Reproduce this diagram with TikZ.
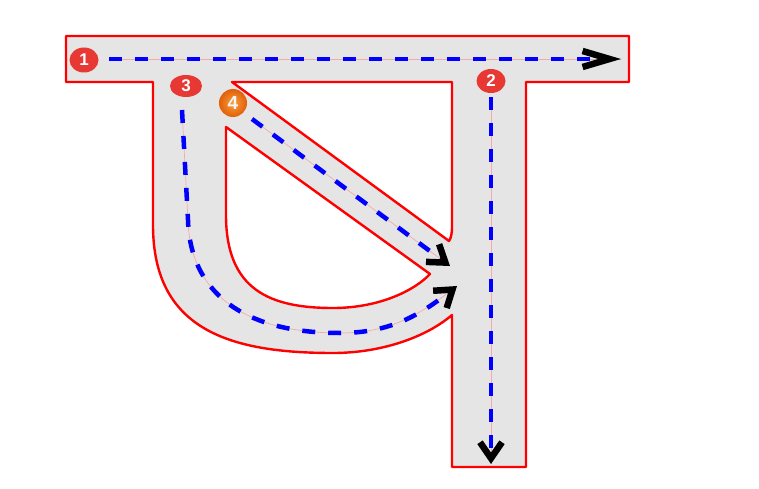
\documentclass[tikz,border=0pt]{standalone}
\usepackage{fontspec}
\setmainfont{Liberation Sans}
\usetikzlibrary{arrows.meta,shapes.geometric}
\definecolor{shapefill}{RGB}{229,229,229}
\definecolor{outlinered}{RGB}{255,0,0}
\definecolor{badgered}{RGB}{232,56,52}
\definecolor{pathblue}{RGB}{0,0,255}
\definecolor{guidepink}{RGB}{245,170,170}
\definecolor{orangeout}{RGB}{225,95,10}
\definecolor{orangein}{RGB}{250,160,60}
\begin{document}
\begin{tikzpicture}[x=1pt,y=-1pt,
  letterbody/.style={fill=shapefill,draw=outlinered,line width=2.4pt,line join=round,even odd rule},
  strokepath/.style={draw=pathblue,line width=4.5pt,dash pattern=on 13pt off 13pt},
  guideline/.style={draw=guidepink,line width=0.7pt},
  tipshort/.style={-{Straight Barb[length=16pt,width=22pt,line width=6.5pt,color=black]}},
  tiplong/.style={-{Straight Barb[length=27pt,width=16pt,line width=6.5pt,color=black]}},
  badge/.style={ellipse,fill=badgered,text=white,inner sep=0pt,
    font=\bfseries\fontsize{17}{17}\selectfont},
  orangebadge/.style={circle,inner color=orangein,outer color=orangeout,text=white!92!gray,inner sep=0pt,
    minimum size=28pt,font=\bfseries\fontsize{19}{19}\selectfont}
]
\useasboundingbox (0,0) rectangle (759,489);

% letter body
\path[letterbody]
  (66,36) -- (629,36) -- (629,82) -- (526,82) -- (526,467) -- (452,467) -- (452,315)
  .. controls (425,338) and (380,353) .. (333,353)
  .. controls (230,353) and (153,330) .. (153,225) -- (153,82) -- (66,82) -- cycle
  (232,82) -- (452,82) -- (452,226) .. controls (452,234) and (451,238) .. (449,241) -- cycle
  (226,127) -- (226,215) .. controls (226,290) and (270,308) .. (333,308)
  .. controls (380,308) and (415,290) .. (430,274) -- cycle;

% path coordinates
\coordinate (p1s) at (109,59);
\coordinate (p1e) at (621,59);
\coordinate (p2s) at (491,97);
\coordinate (p2e) at (491,464);
\coordinate (p3s) at (182,110);
\coordinate (p3a) at (188,220);
\coordinate (p3b) at (340,333);
\coordinate (p3e) at (457,286);
\coordinate (p4s) at (252,119);
\coordinate (p4e) at (450,266);

% thin guide lines
\draw[guideline] (p1s) -- (p1e);
\draw[guideline] (p2s) -- (p2e);
\draw[guideline] (p3s) -- (p3a) .. controls (190,290) and (240,333) .. (p3b)
  .. controls (390,333) and (420,315) .. (p3e);
\draw[guideline] (p4s) -- (p4e);

% dashed strokes
\draw[strokepath,tiplong] (p1s) -- (p1e);
\draw[strokepath,tipshort] (p2s) -- (p2e);
\draw[strokepath,tipshort] (p3s) -- (p3a) .. controls (190,290) and (240,333) .. (p3b)
  .. controls (390,333) and (420,315) .. (p3e);
\draw[strokepath,tipshort] (p4s) -- (p4e);

% badges
\node[badge,minimum width=29pt,minimum height=25pt] (b1) at (84,60) {1};
\node[badge,minimum width=29pt,minimum height=24pt] (b2) at (491,81) {2};
\node[badge,minimum width=32pt,minimum height=22pt] (b3) at (186,86) {3};
\node[orangebadge] (b4) at (233,103) {4};
\end{tikzpicture}
\end{document}
